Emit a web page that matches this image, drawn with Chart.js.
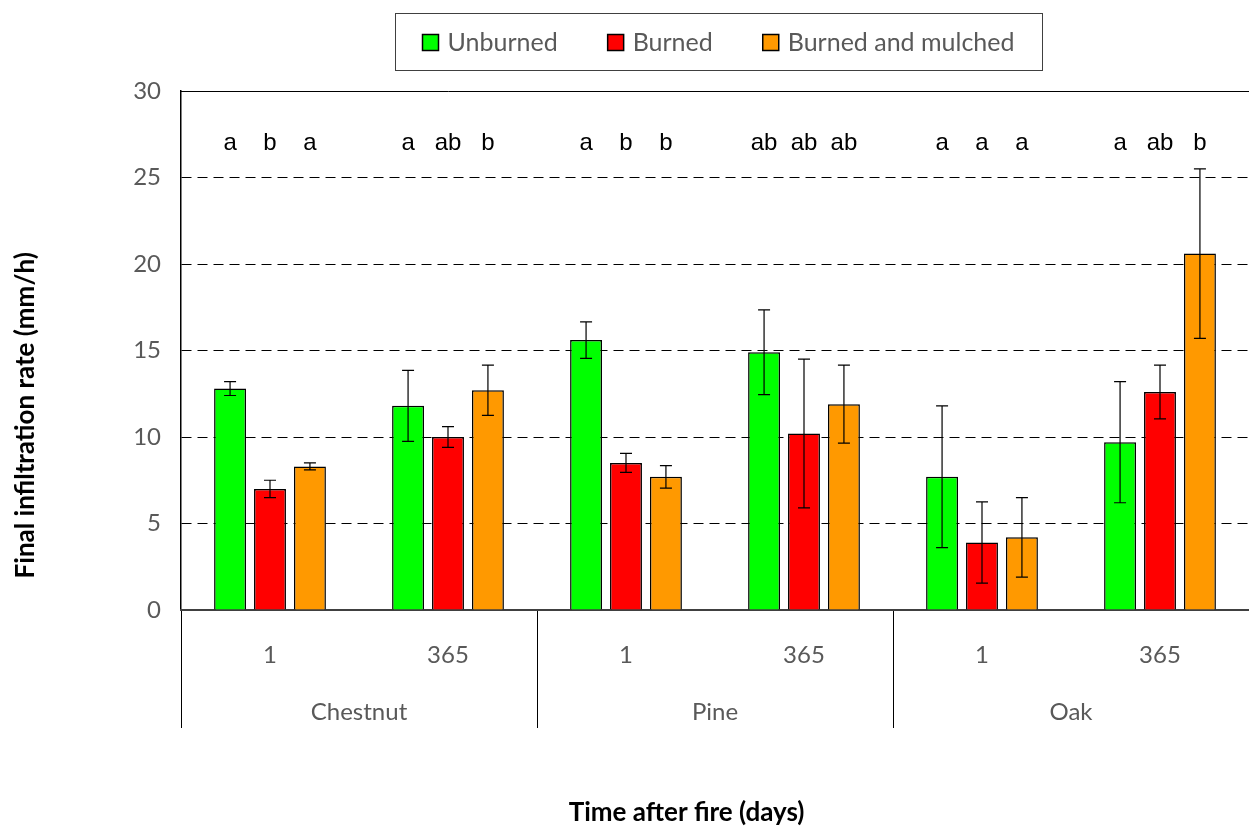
<!DOCTYPE html>
<html>
<head>
<meta charset="utf-8">
<title>Final infiltration rate</title>
<script src="https://cdn.jsdelivr.net/npm/chart.js@4.4.1/dist/chart.umd.min.js"></script>
<style>
  body { margin: 0; background: #fff; }
  canvas { display: block; }
</style>
</head>
<body>
<canvas id="myChart" width="1249" height="828"></canvas>
<script>
// Chart data
const categories = ['1', '365', '1', '365', '1', '365'];
const groups = ['Chestnut', 'Pine', 'Oak'];

const unburned = [12.8, 11.8, 15.6, 14.9, 7.7, 9.7];
const unburnedErr = [0.4, 2.05, 1.05, 2.45, 4.1, 3.5];
const unburnedLetters = ['a', 'a', 'a', 'ab', 'a', 'a'];

const burned = [7.0, 10.0, 8.5, 10.2, 3.9, 12.6];
const burnedErr = [0.5, 0.6, 0.55, 4.3, 2.35, 1.55];
const burnedLetters = ['b', 'ab', 'b', 'ab', 'a', 'ab'];

const mulched = [8.3, 12.7, 7.7, 11.9, 4.2, 20.6];
const mulchedErr = [0.2, 1.45, 0.65, 2.25, 2.3, 4.9];
const mulchedLetters = ['a', 'b', 'b', 'ab', 'a', 'b'];

const yMin = 0;
const yMax = 30;
const yStep = 5;

document.addEventListener('DOMContentLoaded', function() {
  const textGray = '#595959';
  const tickFont = { family: 'Lato', size: 24 };
  const titleFont = { family: 'Lato', size: 26, weight: 'bold' };

  const data = {
    labels: categories,
    datasets: [
      { label: 'Unburned', data: unburned, err: unburnedErr, letters: unburnedLetters,
        backgroundColor: '#00ff00', borderColor: '#000', borderWidth: 1.5 },
      { label: 'Burned', data: burned, err: burnedErr, letters: burnedLetters,
        backgroundColor: '#ff0000', borderColor: '#000', borderWidth: 1.5 },
      { label: 'Burned and mulched', data: mulched, err: mulchedErr, letters: mulchedLetters,
        backgroundColor: '#ff9900', borderColor: '#000', borderWidth: 1.5 }
    ]
  };

  // error bars
  const errorBars = {
    id: 'errorBars',
    afterDatasetsDraw(chart) {
      const ctx = chart.ctx;
      const y = chart.scales.y;
      ctx.save();
      ctx.strokeStyle = '#000';
      ctx.lineWidth = 1.2;
      chart.data.datasets.forEach((ds, i) => {
        chart.getDatasetMeta(i).data.forEach((bar, j) => {
          const top = y.getPixelForValue(ds.data[j] + ds.err[j]);
          const bot = y.getPixelForValue(ds.data[j] - ds.err[j]);
          ctx.beginPath();
          ctx.moveTo(bar.x, top); ctx.lineTo(bar.x, bot);
          ctx.moveTo(bar.x - 6, top); ctx.lineTo(bar.x + 6, top);
          ctx.moveTo(bar.x - 6, bot); ctx.lineTo(bar.x + 6, bot);
          ctx.stroke();
        });
      });
      ctx.restore();
    }
  };

  // significance letters above the bars
  const letterLevel = 27;
  const letters = {
    id: 'letters',
    afterDraw(chart) {
      const ctx = chart.ctx;
      const yPos = chart.scales.y.getPixelForValue(letterLevel);
      ctx.save();
      ctx.font = '24px "Liberation Sans", Arial, sans-serif';
      ctx.fillStyle = '#000';
      ctx.textAlign = 'center';
      ctx.textBaseline = 'middle';
      chart.data.datasets.forEach((ds, i) => {
        chart.getDatasetMeta(i).data.forEach((bar, j) => {
          ctx.fillText(ds.letters[j], bar.x, yPos);
        });
      });
      ctx.restore();
    }
  };

  // framed legend at the top
  const boxLegend = {
    id: 'boxLegend',
    afterDraw(chart) {
      const ctx = chart.ctx;
      const box = { x: 395, y: 13, w: 647, h: 57 };
      const sq = 16, gapText = 9, gapItem = 50;
      ctx.save();
      ctx.strokeStyle = '#404040';
      ctx.lineWidth = 1;
      ctx.strokeRect(box.x + 0.5, box.y + 0.5, box.w, box.h);
      ctx.font = '25px Lato';
      const items = chart.data.datasets.map(ds => ({
        label: ds.label, color: ds.backgroundColor, w: ctx.measureText(ds.label).width
      }));
      let total = 0;
      items.forEach((it, k) => { total += sq + gapText + it.w + (k ? gapItem : 0); });
      let x = box.x + box.w / 2 - total / 2;
      const cy = box.y + box.h / 2 + 1;
      ctx.textBaseline = 'middle';
      items.forEach(it => {
        ctx.fillStyle = it.color;
        ctx.fillRect(x, cy - sq / 2, sq, sq);
        ctx.strokeStyle = '#000';
        ctx.lineWidth = 1.5;
        ctx.strokeRect(x, cy - sq / 2, sq, sq);
        ctx.fillStyle = textGray;
        ctx.fillText(it.label, x + sq + gapText, cy);
        x += sq + gapText + it.w + gapItem;
      });
      ctx.restore();
    }
  };

  const options = {
    responsive: false,
    animation: false,
    layout: { padding: { top: 91, right: 0, left: 0, bottom: 0 } },
    datasets: { bar: { categoryPercentage: 0.673, barPercentage: 0.8 } },
    plugins: { legend: { display: false }, tooltip: { enabled: false } },
    scales: {
      y: {
        min: yMin, max: yMax,
        ticks: { stepSize: yStep, font: tickFont, color: textGray, padding: 20 },
        grid: { color: '#000', lineWidth: 1, drawTicks: false },
        border: { color: '#000', width: 1.5, dash: [10, 6] },
        title: { display: true, align: 'start', text: '     Final infiltration rate (mm/h)',
                 font: titleFont, color: '#000', padding: { top: 10, bottom: 0 } },
        afterFit: s => { s.width = 181; }
      },
      x: {
        position: 'bottom',
        offset: true,
        grid: {
          offset: true, drawOnChartArea: false, drawTicks: true, tickLength: 62,
          color: c => (c.type !== 'tick' || c.index % 2 === 0) ? '#000' : 'rgba(0,0,0,0)'
        },
        border: { display: true, color: '#404040', width: 2 },
        ticks: { font: tickFont, color: textGray, padding: -31, maxRotation: 0 },
        afterFit: s => { s.height = 62; }
      },
      x2: {
        type: 'category',
        labels: groups,
        position: 'bottom',
        offset: true,
        grid: { offset: true, drawOnChartArea: false, drawTicks: true, tickLength: 56, color: '#000' },
        border: { display: false },
        ticks: { font: tickFont, color: textGray, padding: -30, maxRotation: 0 },
        title: { display: true, text: 'Time after fire (days)' + ' '.repeat(9), font: titleFont,
                 color: '#000', padding: { top: 0, bottom: 0 } },
        afterFit: s => { s.height = 156; }
      },
      xt: {
        type: 'category',
        labels: categories,
        position: 'top',
        grid: { display: false, drawTicks: false },
        ticks: { display: false },
        border: { display: true, color: '#000', width: 1 },
        afterFit: s => { s.height = 0; }
      }
    }
  };

  const ctx = document.getElementById('myChart').getContext('2d');
  new Chart(ctx, {
    type: 'bar',
    data: data,
    options: options,
    plugins: [errorBars, letters, boxLegend]
  });
});
</script>
</body>
</html>
